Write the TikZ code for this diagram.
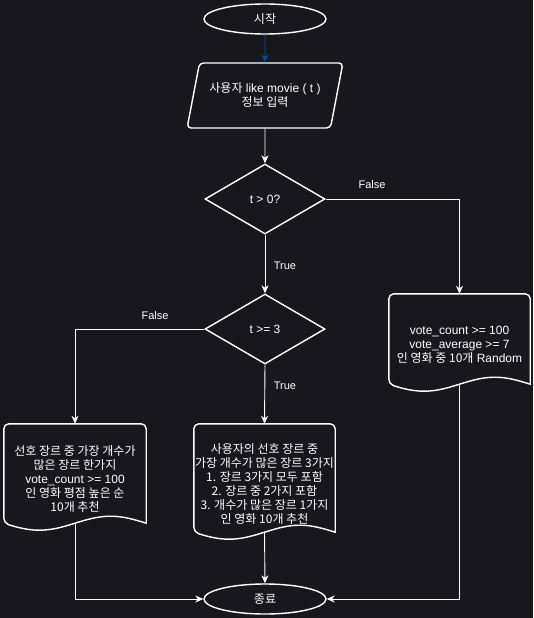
\documentclass[tikz,border=0pt]{standalone}
\usepackage{fontspec}
\setmainfont{Liberation Sans}
\newfontfamily\krfont{Noto Sans CJK KR}
\newcommand{\kr}[1]{{\krfont #1}}
\usetikzlibrary{positioning,shapes.geometric,arrows.meta,calc}
\definecolor{bgdark}{RGB}{24,23,29}
\definecolor{linkblue}{RGB}{0,76,153}

\newcommand{\docshape}[1]{%
  \draw[outline] ([yshift=12pt]#1.south west) sin ($(#1.south)!.5!(#1.south west)+(0,-5)$)
    cos ([yshift=12pt]#1.south) sin ($(#1.south)!.5!(#1.south east)+(0,-19)$)
    cos ([yshift=12pt]#1.south east) [rounded corners=5pt] -- (#1.north east) -- (#1.north west) -- cycle;
  \coordinate (#1-out) at ([yshift=12pt]#1.south);}

\begin{document}
\begin{tikzpicture}[x=1pt,y=-1pt,
  every node/.style={text=white,font=\fontsize{12}{14}\selectfont,align=center,inner sep=0pt},
  outline/.style={draw=white,line width=1.4pt},
  terminal/.style={ellipse,outline,minimum width=122pt,minimum height=30pt},
  inputbox/.style={trapezium,trapezium left angle=67,trapezium right angle=113,trapezium stretches=true,
    outline,rounded corners=4pt,minimum width=156pt,minimum height=65pt},
  decision/.style={diamond,outline,minimum width=120pt,minimum height=70pt},
  docbox/.style={rectangle},
  branch/.style={font=\fontsize{11}{13}\selectfont},
  link/.style={draw=white,line width=0.9pt,-{Stealth[length=8pt,width=7pt,inset=2.5pt]}}]
\useasboundingbox (0,0) rectangle (533,618);
\fill[bgdark] (0,0) rectangle (533,618);

\node[terminal] (start) at (265,19) {\kr{시작}};
\node[inputbox] (input) at (265,95.5) {\kr{사용자} like movie ( t )\\\kr{정보 입력}};
\node[decision] (gt0) at (265,199) {t > 0?};
\node[decision] (ge3) at (265,329) {t >= 3};
\node[docbox,minimum width=141pt,minimum height=102pt] (randdoc) at (459.5,345)
  {vote\_count >= 100\\vote\_average >= 7\\\kr{인 영화 중 10개} Random};
\node[docbox,minimum width=142pt,minimum height=111pt] (topdoc) at (75,479.5)
  {\kr{선호 장르 중 가장 개수가}\\\kr{많은 장르 한가지}\\vote\_count >= 100\\\kr{인 영화 평점 높은 순}\\\kr{10개 추천}};
\node[docbox,minimum width=141pt,minimum height=120pt] (mixdoc) at (264.5,484)
  {\kr{사용자의 선호 장르 중}\\\kr{가장 개수가 많은 장르 3가지}\\\kr{1. 장르 3가지 모두 포함}\\\kr{2. 장르 중 2가지 포함}\\\kr{3. 개수가 많은 장르 1가지}\\\kr{인 영화 10개 추천}};
\node[terminal] (finish) at (265,599) {\kr{종료}};
\docshape{randdoc}
\docshape{topdoc}
\docshape{mixdoc}

\node[branch] (no1) at (372,185) {False};
\node[branch] (yes1) at (285,266) {True};
\node[branch] (no2) at (155,316) {False};
\node[branch] (yes2) at (285,386) {True};

\draw[link,draw=linkblue] (start.south) -- (input.north);
\draw[link] (input.south) -- (gt0.north);
\draw[link] (gt0.east) -| (randdoc.north);
\draw[link] (gt0.south) -- (ge3.north);
\draw[link] (ge3.west) -| (topdoc.north);
\draw[link] (ge3.south) -- (mixdoc.north);
\draw[link] (mixdoc-out) -- (finish.north);
\draw[link] (topdoc-out) |- (finish.west);
\draw[link] (randdoc-out) |- (finish.east);
\end{tikzpicture}
\end{document}
